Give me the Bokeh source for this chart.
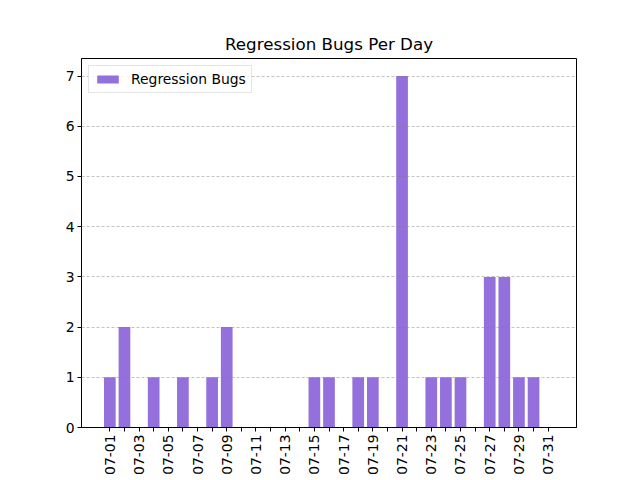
import math
from bokeh.plotting import figure
from bokeh.models import ColumnDataSource, FixedTicker, Range1d, Legend, LegendItem
from bokeh.embed import file_html
from bokeh.resources import INLINE

days = ["07-%02d" % d for d in range(1, 32)]
bugs = [1, 2, 0, 1, 0, 1, 0, 1, 2, 0, 0, 0, 0, 0, 1, 1, 0, 1, 1, 0,
        7, 0, 1, 1, 1, 0, 3, 3, 1, 1, 0]
series_name = "Regression Bugs"
title_text = "Regression Bugs Per Day"
y_ticks = [0, 1, 2, 3, 4, 5, 6, 7]

xs = list(range(1, len(days) + 1))
src = ColumnDataSource(dict(x=xs, top=bugs, label=days))

bar_w = 0.8
pad = 0.05 * (xs[-1] - xs[0] + bar_w)
x0 = xs[0] - bar_w / 2 - pad
x1 = xs[-1] + bar_w / 2 + pad
ymax = max(bugs) * 1.05

FONT = "DejaVu Sans"

p = figure(frame_width=495, frame_height=369,
           x_range=Range1d(x0, x1), y_range=Range1d(0, ymax),
           output_backend="svg", toolbar_location=None,
           min_border_left=81, min_border_top=58, min_border_right=56,
           min_border_bottom=45)

p.title.text = title_text
p.title.align = "center"
p.title.text_font = FONT
p.title.text_font_size = "16.7px"
p.title.text_font_style = "normal"
p.title.text_color = "black"

r = p.vbar(x="x", top="top", width=bar_w, source=src,
           fill_color="#9370DB", line_color=None)

p.xaxis.ticker = FixedTicker(ticks=xs)
p.xaxis.major_label_overrides = {x: (lab if i % 2 == 0 else "") for i, (x, lab) in enumerate(zip(xs, days))}
p.xaxis.major_label_orientation = math.pi / 2
p.yaxis.ticker = FixedTicker(ticks=y_ticks)

for ax in (p.xaxis, p.yaxis):
    ax.axis_line_color = "black"
    ax.axis_line_width = 1
    ax.major_tick_line_color = "black"
    ax.major_tick_out = 4
    ax.major_tick_in = 0
    ax.minor_tick_line_color = None
    ax.major_label_text_font = FONT
    ax.major_label_text_font_size = "13.9px"
    ax.major_label_text_color = "black"
    ax.major_label_standoff = 3

p.xgrid.grid_line_color = None
p.ygrid.grid_line_color = "#808080"
p.ygrid.grid_line_alpha = 0.6
p.ygrid.grid_line_dash = "3 2"
p.ygrid.grid_line_width = 0.8
p.ygrid.level = "overlay"

p.outline_line_color = "black"
p.outline_line_width = 1
p.outline_line_alpha = 1

legend = Legend(items=[LegendItem(label=series_name, renderers=[r])],
                location="top_left")
legend.label_text_font = FONT
legend.label_text_font_size = "13.9px"
legend.label_text_color = "black"
legend.glyph_width = 27
legend.glyph_height = 10
legend.margin = 7
legend.padding = 5
legend.spacing = 0
legend.label_standoff = 10
legend.border_line_color = "#cccccc"
legend.border_line_width = 1
legend.background_fill_alpha = 0.8
p.add_layout(legend)

open("out.html", "w").write(file_html(p, INLINE))
